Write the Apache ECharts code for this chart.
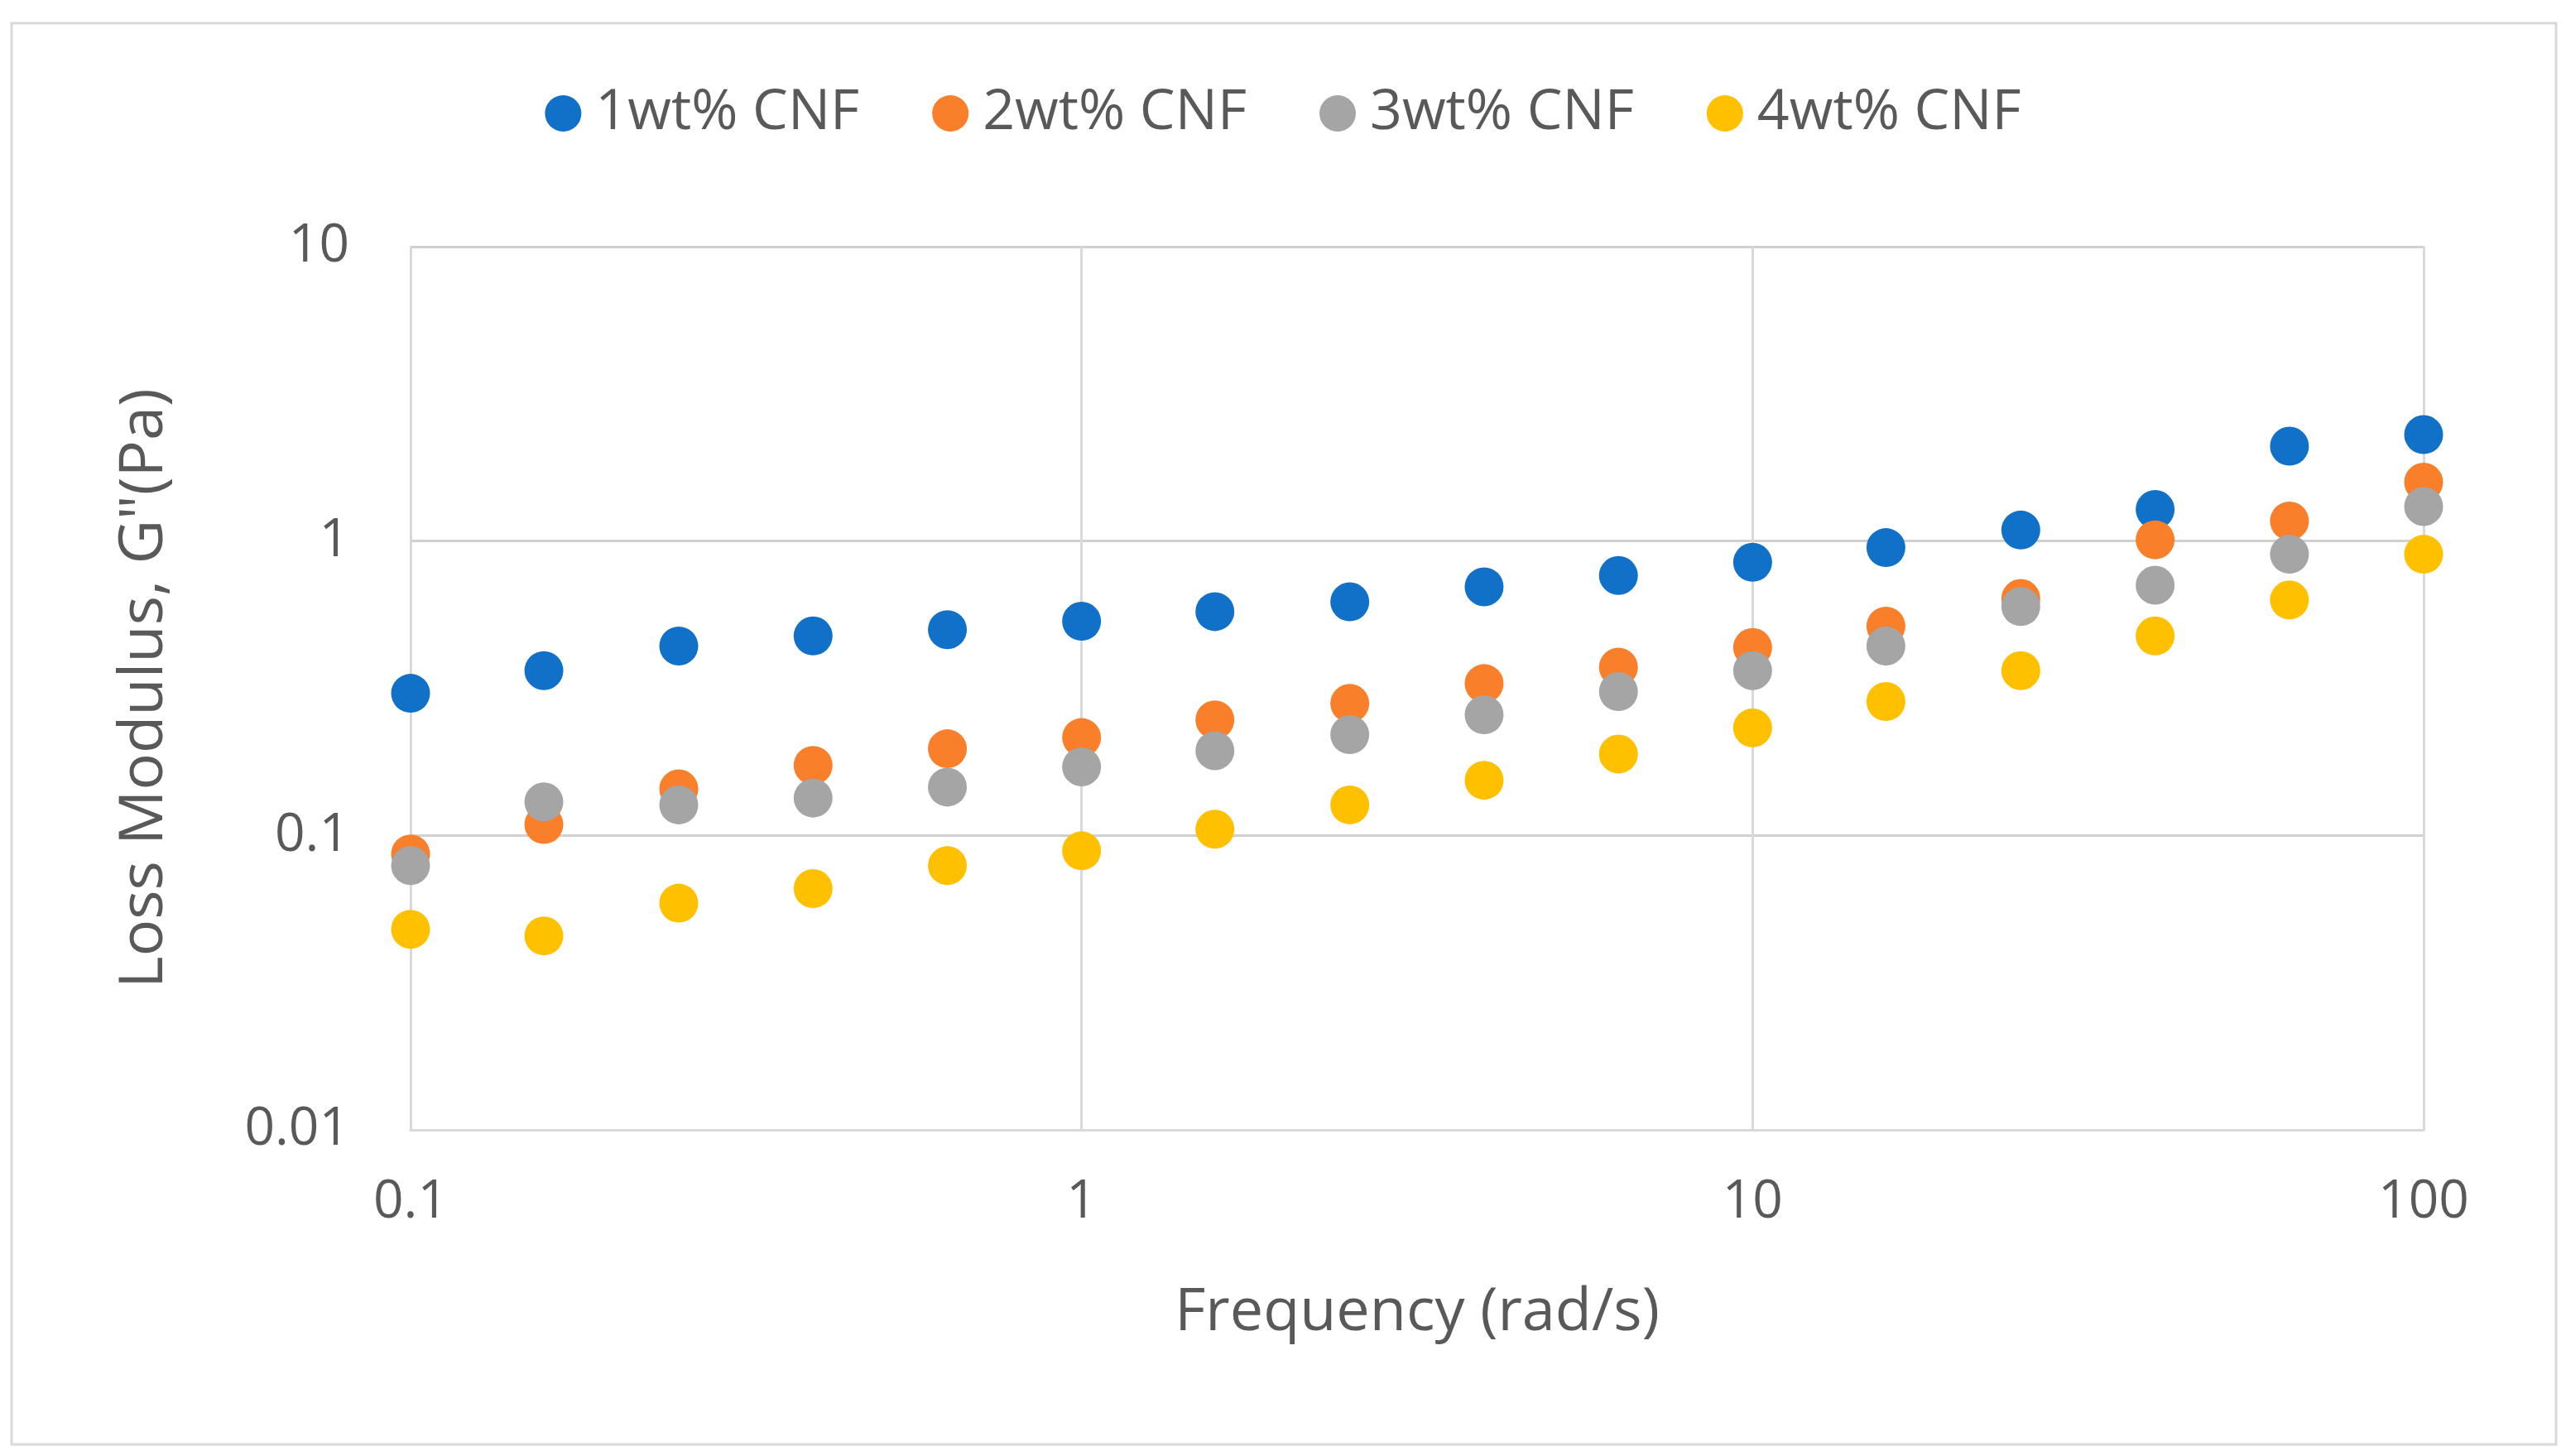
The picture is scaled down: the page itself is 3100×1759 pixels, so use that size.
<!DOCTYPE html>
<html>
<head>
<meta charset="utf-8">
<script src="https://cdn.jsdelivr.net/npm/echarts@6/dist/echarts.min.js"></script>
<style>
html,body{margin:0;padding:0;background:#fff;}
#c{width:3100px;height:1759px;}
</style>
</head>
<body>
<div id="c"></div>
<script>
var frequency = [0.1, 0.158, 0.251, 0.398, 0.631, 1, 1.58, 2.51, 3.98, 6.31, 10, 15.8, 25.1, 39.8, 63.1, 100];
var cnf1 = [0.304, 0.363, 0.44, 0.476, 0.50, 0.534, 0.576, 0.622, 0.699, 0.764, 0.847, 0.95, 1.09, 1.28, 2.10, 2.30];
var cnf2 = [0.0865, 0.109, 0.144, 0.173, 0.197, 0.215, 0.247, 0.281, 0.328, 0.373, 0.435, 0.514, 0.638, 1.01, 1.17, 1.585];
var cnf3 = [0.079, 0.130, 0.127, 0.134, 0.146, 0.171, 0.194, 0.22, 0.257, 0.308, 0.363, 0.44, 0.599, 0.708, 0.902, 1.31];
var cnf4 = [0.048, 0.0456, 0.0589, 0.066, 0.079, 0.0887, 0.105, 0.127, 0.154, 0.189, 0.232, 0.285, 0.363, 0.476, 0.631, 0.902];
var seriesNames = ['1wt% CNF', '2wt% CNF', '3wt% CNF', '4wt% CNF'];
var seriesColors = ['#1170C8', '#F97F2A', '#A5A5A5', '#FFC000'];
var seriesData = [cnf1, cnf2, cnf3, cnf4];

function pairs(ys){ return frequency.map(function(x,i){ return [x, ys[i]]; }); }
var fmt = function(v){ return String(+Number(v).toPrecision(3)); };
var FONT = '"Open Sans", "Noto Sans", sans-serif';
var TXT = '#595959';

var chart = echarts.init(document.getElementById('c'), null, {renderer:'canvas', devicePixelRatio:1});
chart.setOption({
  backgroundColor:'#fff',
  animation:false,
  graphic:[{type:'rect', shape:{x:14,y:28,width:3074,height:1717}, style:{fill:'none', stroke:'#D9D9D9', lineWidth:3}, silent:true}],
  legend:{
    top:98, left:'center', itemWidth:44, itemHeight:44, itemGap:88, icon:'circle',
    textStyle:{fontSize:68, color:TXT, fontFamily:FONT, padding:[0,0,0,12]},
    data:seriesNames
  },
  grid:{left:496, right:172, top:298, bottom:394, containLabel:false},
  xAxis:{
    type:'log', logBase:10, min:0.1, max:100,
    name:'Frequency (rad/s)', nameLocation:'middle', nameGap:185,
    nameTextStyle:{fontSize:72, color:TXT, fontFamily:FONT},
    axisLine:{show:true, lineStyle:{color:'#D9D9D9', width:3}},
    axisTick:{show:false},
    axisLabel:{fontSize:64, color:TXT, fontFamily:FONT, margin:56, formatter:fmt},
    splitLine:{show:true, lineStyle:{color:'#D9D9D9', width:3}},
    minorSplitLine:{show:false}
  },
  yAxis:{
    type:'log', logBase:10, min:0.01, max:10,
    name:'Loss Modulus, G"(Pa)', nameLocation:'middle', nameGap:284,
    nameTextStyle:{fontSize:74, color:TXT, fontFamily:FONT},
    axisLine:{show:true, lineStyle:{color:'#D9D9D9', width:3}},
    axisTick:{show:false},
    axisLabel:{fontSize:64, color:TXT, fontFamily:FONT, margin:74, formatter:fmt},
    splitLine:{show:true, lineStyle:{color:'#D0D0D0', width:3}}
  },
  series: seriesNames.map(function(n,i){
    return {
      name:n, type:'scatter', symbol:'circle', symbolSize:47,
      itemStyle:{color:seriesColors[i], opacity:1},
      data:pairs(seriesData[i])
    };
  })
});
</script>
</body>
</html>
